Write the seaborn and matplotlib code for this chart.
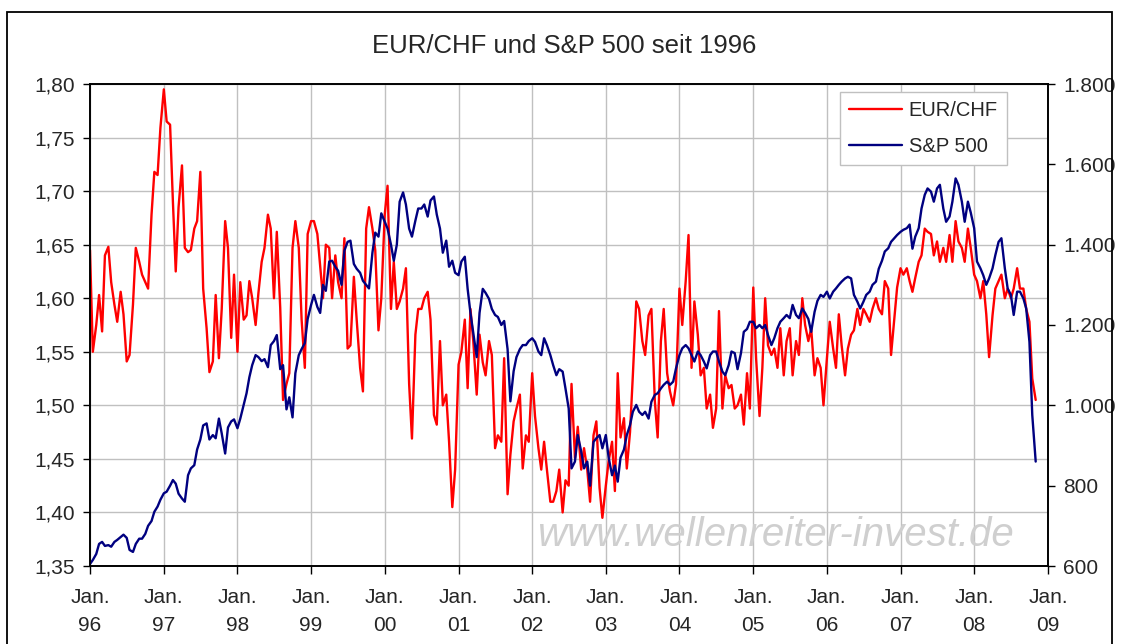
import numpy as np
import pandas as pd
import matplotlib
matplotlib.use("Agg")
import matplotlib.pyplot as plt
from matplotlib.ticker import FuncFormatter
from matplotlib.lines import Line2D
from matplotlib.patches import Rectangle
import seaborn as sns

# semi-monthly readings (1st and 15th), Jan 1996 - Oct 2008
eurchf = [
    1.645, 1.550, 1.575, 1.603, 1.569, 1.640, 1.648, 1.615, 1.594, 1.578, 1.606, 1.585,
    1.541, 1.547, 1.594, 1.647, 1.634, 1.622, 1.615, 1.609, 1.678, 1.718, 1.715, 1.759,  # 96
    1.795, 1.765, 1.762, 1.690, 1.625, 1.685, 1.724, 1.647, 1.643, 1.645, 1.665, 1.672,
    1.718, 1.609, 1.572, 1.531, 1.541, 1.603, 1.544, 1.590, 1.672, 1.647, 1.563, 1.622,  # 97
    1.550, 1.615, 1.580, 1.584, 1.616, 1.600, 1.575, 1.605, 1.634, 1.647, 1.678, 1.665,
    1.600, 1.662, 1.591, 1.505, 1.520, 1.530, 1.647, 1.672, 1.647, 1.580, 1.535, 1.660,  # 98
    1.672, 1.672, 1.660, 1.630, 1.600, 1.650, 1.647, 1.600, 1.640, 1.615, 1.600, 1.656,
    1.553, 1.556, 1.620, 1.580, 1.535, 1.513, 1.665, 1.685, 1.665, 1.645, 1.570, 1.600,  # 99
    1.678, 1.705, 1.590, 1.634, 1.590, 1.597, 1.609, 1.628, 1.520, 1.469, 1.566, 1.590,
    1.590, 1.600, 1.606, 1.580, 1.491, 1.482, 1.560, 1.500, 1.510, 1.466, 1.405, 1.440,  # 00
    1.538, 1.550, 1.580, 1.516, 1.590, 1.560, 1.510, 1.566, 1.540, 1.528, 1.560, 1.547,
    1.460, 1.472, 1.466, 1.544, 1.417, 1.454, 1.485, 1.497, 1.510, 1.441, 1.472, 1.466,  # 01
    1.530, 1.490, 1.460, 1.440, 1.466, 1.440, 1.410, 1.410, 1.420, 1.440, 1.400, 1.430,
    1.425, 1.520, 1.451, 1.480, 1.440, 1.460, 1.440, 1.410, 1.472, 1.485, 1.423, 1.395,  # 02
    1.425, 1.448, 1.466, 1.420, 1.530, 1.470, 1.488, 1.441, 1.475, 1.528, 1.597, 1.590,
    1.560, 1.547, 1.584, 1.590, 1.504, 1.470, 1.560, 1.590, 1.530, 1.513, 1.500, 1.520,  # 03
    1.609, 1.575, 1.616, 1.659, 1.535, 1.597, 1.566, 1.528, 1.535, 1.497, 1.510, 1.479,
    1.497, 1.588, 1.497, 1.528, 1.516, 1.519, 1.497, 1.500, 1.510, 1.482, 1.530, 1.497,  # 04
    1.610, 1.544, 1.490, 1.535, 1.600, 1.556, 1.547, 1.553, 1.535, 1.572, 1.528, 1.560,
    1.572, 1.528, 1.560, 1.547, 1.600, 1.575, 1.560, 1.572, 1.528, 1.544, 1.535, 1.500,  # 05
    1.544, 1.578, 1.553, 1.535, 1.585, 1.556, 1.528, 1.553, 1.566, 1.570, 1.590, 1.575,
    1.590, 1.585, 1.578, 1.590, 1.600, 1.590, 1.585, 1.616, 1.609, 1.547, 1.581, 1.610,  # 06
    1.628, 1.622, 1.628, 1.616, 1.606, 1.619, 1.634, 1.640, 1.665, 1.662, 1.660, 1.640,
    1.653, 1.634, 1.647, 1.634, 1.659, 1.634, 1.672, 1.653, 1.647, 1.634, 1.665, 1.647,  # 07
    1.622, 1.616, 1.600, 1.616, 1.585, 1.545, 1.584, 1.609, 1.616, 1.622, 1.600, 1.609,
    1.600, 1.609, 1.628, 1.609, 1.609, 1.590, 1.578, 1.525, 1.505,                       # 08
]

spx = [
    605, 615, 630, 655, 660, 650, 652, 648, 660, 665, 672, 678,
    670, 640, 635, 655, 668, 668, 680, 700, 712, 735, 748, 765,            # 96
    781, 785, 800, 814, 805, 780, 768, 760, 826, 843, 851, 890,
    915, 950, 955, 915, 926, 918, 967, 930, 880, 945, 960, 965,            # 97
    943, 967, 1001, 1030, 1070, 1100, 1125, 1120, 1110, 1115, 1095, 1150,
    1160, 1175, 1090, 1100, 990, 1020, 970, 1080, 1125, 1140, 1155, 1215,  # 98
    1250, 1275, 1245, 1230, 1300, 1285, 1358, 1360, 1345, 1335, 1300, 1385,
    1407, 1410, 1352, 1340, 1330, 1310, 1300, 1291, 1380, 1430, 1420, 1478,  # 99
    1457, 1440, 1400, 1360, 1400, 1507, 1530, 1500, 1440, 1420, 1460, 1490,
    1490, 1500, 1470, 1510, 1520, 1475, 1440, 1380, 1410, 1345, 1360, 1330,  # 00
    1324, 1358, 1370, 1290, 1230, 1180, 1120, 1230, 1290, 1280, 1265, 1240,
    1225, 1220, 1200, 1210, 1140, 1010, 1085, 1120, 1140, 1150, 1150, 1160,  # 01
    1167, 1158, 1134, 1125, 1167, 1150, 1125, 1100, 1075, 1090, 1084, 1042,
    992, 843, 860, 926, 885, 843, 860, 800, 909, 918, 926, 893,              # 02
    926, 870, 826, 850, 810, 870, 890, 926, 951, 984, 1001, 984,
    976, 984, 967, 1009, 1026, 1030, 1042, 1051, 1059, 1051, 1059, 1092,    # 03
    1125, 1142, 1150, 1142, 1125, 1109, 1134, 1125, 1109, 1092, 1125, 1134,
    1134, 1109, 1084, 1075, 1100, 1134, 1130, 1090, 1130, 1183, 1190, 1208,  # 04
    1208, 1192, 1200, 1192, 1200, 1175, 1150, 1167, 1192, 1208, 1217, 1225,
    1217, 1250, 1225, 1217, 1241, 1230, 1215, 1183, 1233, 1260, 1275, 1270,  # 05
    1283, 1266, 1283, 1291, 1300, 1308, 1316, 1320, 1316, 1275, 1258, 1241,
    1258, 1275, 1283, 1300, 1308, 1340, 1360, 1383, 1391, 1407, 1416, 1424,  # 06
    1432, 1437, 1441, 1450, 1390, 1420, 1441, 1490, 1524, 1540, 1532, 1507,
    1540, 1549, 1490, 1457, 1470, 1507, 1565, 1549, 1507, 1457, 1507, 1480,  # 07
    1441, 1358, 1341, 1324, 1300, 1316, 1341, 1374, 1407, 1416, 1341, 1291,
    1275, 1225, 1283, 1283, 1266, 1241, 1158, 976, 860,                      # 08
]

years = list(range(1996, 2010))
year_labels = [f"Jan.\n{y % 100:02d}" for y in years]
eur_ticks = [1.35, 1.40, 1.45, 1.50, 1.55, 1.60, 1.65, 1.70, 1.75, 1.80]
spx_ticks = [600, 800, 1000, 1200, 1400, 1600, 1800]

dates = pd.date_range("1996-01-01", periods=len(eurchf), freq="SMS")
df = pd.DataFrame({"date": dates, "eurchf": eurchf, "spx": spx})

RED = "#ff0000"
NAVY = "#000080"
GRID = "#c0c0c0"

sns.set_theme(style="white")
plt.rcParams["font.family"] = ["Liberation Sans", "DejaVu Sans"]

W, H = 1121, 644
fig = plt.figure(figsize=(W / 100, H / 100), dpi=100)
fig.patch.set_facecolor("white")
ax = fig.add_axes([90 / W, 1 - 566 / H, 958 / W, 482 / H])
ax2 = ax.twinx()

sns.lineplot(data=df, x="date", y="eurchf", ax=ax, color=RED, lw=1.7)
sns.lineplot(data=df, x="date", y="spx", ax=ax2, color=NAVY, lw=1.7)

# axes ranges and ticks
ax.set_xlim(pd.Timestamp("1996-01-01"), pd.Timestamp("2009-01-01"))
ax.set_xticks([pd.Timestamp(f"{y}-01-01") for y in years])
ax.set_xticklabels(year_labels, linespacing=1.6)
ax.set_ylim(1.35, 1.80)
ax.set_yticks(eur_ticks)
ax.yaxis.set_major_formatter(FuncFormatter(lambda v, p: f"{v:.2f}".replace(".", ",")))
ax2.set_ylim(600, 1800)
ax2.set_yticks(spx_ticks)
ax2.yaxis.set_major_formatter(FuncFormatter(lambda v, p: f"{v:,.0f}".replace(",", ".")))
for a in (ax, ax2):
    a.set_xlabel("")
    a.set_ylabel("")

ax.grid(True, color=GRID, lw=1)
ax.set_axisbelow(True)
ax.tick_params(axis="x", bottom=True, direction="out", length=6, width=1,
               color="black", labelsize=15, pad=10)
ax.tick_params(axis="y", left=True, direction="out", length=5, width=1,
               color="black", labelsize=15, pad=6)
ax2.tick_params(axis="y", right=True, left=False, direction="out", length=5,
                width=1, color="black", labelsize=15, pad=6)
for a in (ax, ax2):
    for s in a.spines.values():
        s.set_color("black")
        s.set_linewidth(1.2)

# watermark
ax.text(0.716, 0.065, "www.wellenreiter-invest.de", transform=ax.transAxes,
        ha="center", va="center", fontsize=29, style="italic", color="#cfcfcf", zorder=1)

# legend
handles = [Line2D([], [], color=RED, lw=1.7), Line2D([], [], color=NAVY, lw=1.7)]
leg = ax2.legend(handles, ["EUR/CHF", "S&P 500"], loc="upper left",
                 bbox_to_anchor=(0.783, 0.983), borderaxespad=0, frameon=True,
                 fancybox=False, edgecolor=GRID, framealpha=1, fontsize=14.5,
                 handlelength=2.6, handletextpad=0.35, labelspacing=0.85, borderpad=0.45)
leg.get_frame().set_linewidth(1)

fig.text(564 / W, 1 - 46 / H, "EUR/CHF und S&P 500 seit 1996",
         ha="center", va="center", fontsize=18.5)

# outer frame of the chart
fig.patches.append(Rectangle((7 / W, -0.02), (1112 - 7) / W, 1.02 - 12 / H,
                             transform=fig.transFigure, fill=False,
                             edgecolor="black", lw=1.3))

fig.savefig("out.png", dpi=100)
